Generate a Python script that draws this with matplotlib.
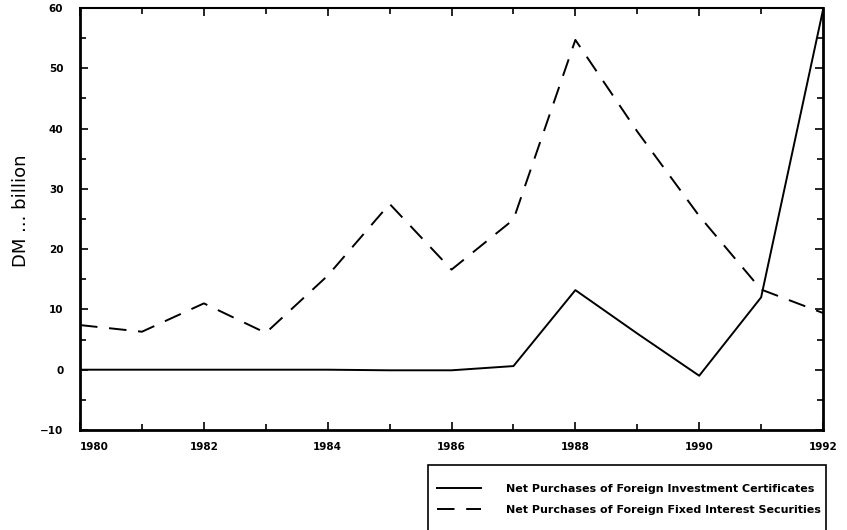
import matplotlib
matplotlib.use("Agg")
import matplotlib.pyplot as plt
from matplotlib.patches import Rectangle

# Data (DM billion)
years = [1980, 1981, 1982, 1983, 1984, 1985, 1986, 1987, 1988, 1989, 1990, 1991, 1992]
investment_certificates = [0, 0, 0, 0, 0, -0.1, -0.1, 0.6, 13.2, 6.0, -1.0, 12.0, 59.7]
fixed_interest = [7.4, 6.3, 11.0, 6.1, 15.6, 27.5, 16.6, 24.9, 54.7, 39.5, 25.5, 13.3, 9.4]

label_solid = "Net Purchases of Foreign Investment Certificates"
label_dashed = "Net Purchases of Foreign Fixed Interest Securities"

fig = plt.figure(figsize=(8.47, 5.30), dpi=100)
ax = fig.add_axes([0.0945, 0.1887, 0.8772, 0.7963])

ax.plot(years, investment_certificates, color="black", linewidth=1.4,
        label=label_solid)
ax.plot(years, fixed_interest, color="black", linewidth=1.4,
        dashes=(9, 6), label=label_dashed)

ax.set_xlim(1980, 1992)
ax.set_ylim(-10, 60)
ax.set_xticks(range(1980, 1993, 2))
ax.set_xticks(range(1980, 1993), minor=True)
ax.set_yticks(range(-10, 61, 10))
ax.set_yticks(range(-10, 61, 5), minor=True)

ax.tick_params(which="both", direction="in", top=True, right=True,
               width=1.2, labelsize=7.5)
ax.tick_params(which="major", length=6)
ax.tick_params(which="minor", length=4)
ax.tick_params(axis="x", pad=9)
ax.tick_params(axis="y", pad=12)
for lbl in ax.get_xticklabels() + ax.get_yticklabels():
    lbl.set_fontweight("bold")
# first year label sits just right of the corner
xlabels = ax.get_xticklabels()
xlabels[0].set_horizontalalignment("left")
xlabels[0].set_x(1980.05)

for side in ["left", "bottom", "right"]:
    ax.spines[side].set_linewidth(2)
ax.spines["top"].set_linewidth(1.5)

ax.set_ylabel("DM ... billion", fontsize=13, color="black")
ax.yaxis.set_label_coords(-0.068, 0.52)

# legend box below the plot, bottom edge runs off the figure
fig.patches.append(Rectangle((0.5053, -0.02), 0.4699, 0.1426,
                             transform=fig.transFigure, fill=False,
                             edgecolor="black", linewidth=1.2))
fig.legend(loc="upper left", bbox_to_anchor=(437 / 847, 1 - 484 / 530),
           frameon=False, prop={"size": 8, "weight": "bold"},
           handlelength=4.0, handletextpad=2.2, borderpad=0,
           labelspacing=1.0, borderaxespad=0)

fig.savefig("out.png", dpi=100)
